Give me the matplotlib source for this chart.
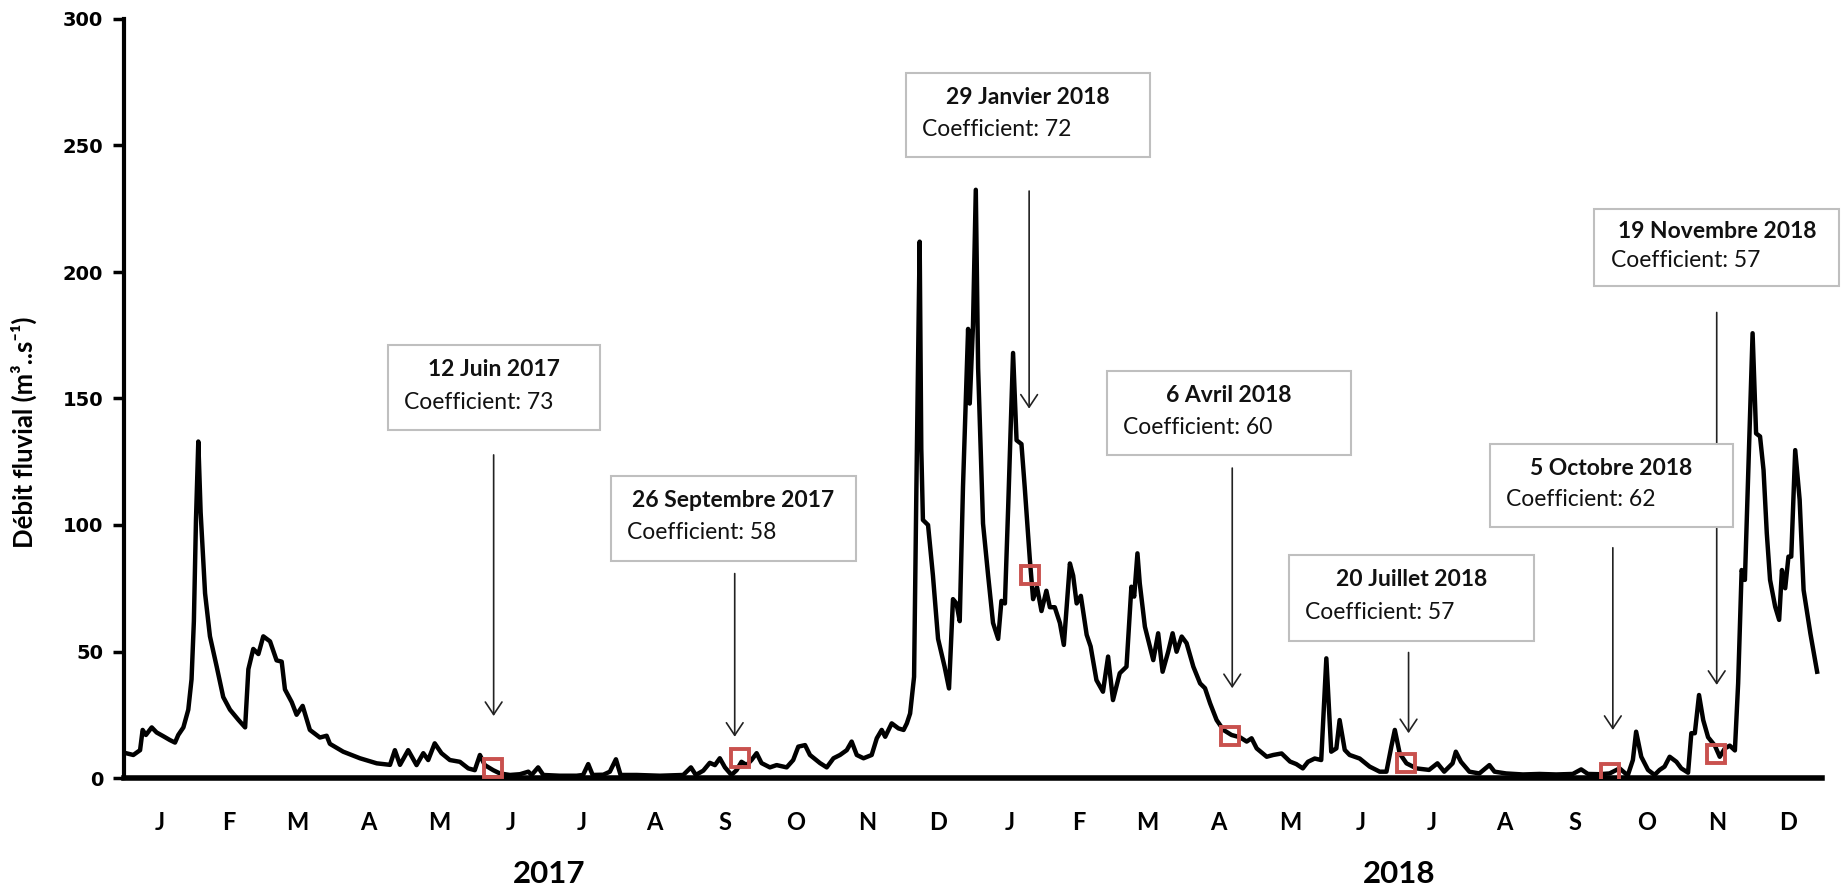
import matplotlib
matplotlib.use("Agg")
import matplotlib.pyplot as plt
from matplotlib.patches import Rectangle

# daily river discharge (day 0 = 1 Jan 2017)
days = [0, 4, 6.9, 8, 9.4, 11.9, 14, 16.9, 19.7, 21.9, 23.3, 25.5, 27.6, 29, 30, 30.9, 31.9, 32.9,
        34.8, 36.9, 39.8, 42.6, 45.5, 49.1, 52, 53.4, 55.5, 57.7, 59.8, 62.7, 65.5, 67.7, 69.1, 72,
        74.1, 76.7, 79.8, 84.1, 87, 88.4, 94.1, 101.3, 108.5, 114.2, 116.3, 118.5, 122, 125.6, 128.5,
        130.6, 133.4, 136.3, 139.9, 144.2, 147.8, 150.6, 152.8, 154.9, 158.5, 161.4, 165.7, 170,
        173.6, 175, 177.8, 180, 187.1, 194.3, 197.1, 199.3, 201.2, 205.8, 208.6, 211.2, 213.2, 220.1,
        230.1, 240.1, 243.4, 245.5, 248.7, 251.5, 253.7, 255.8, 258, 260.8, 263, 265.1, 267.3, 269.4,
        271.6, 273.7, 277.3, 280.2, 284.5, 287.3, 289.5, 292.4, 294.5, 298.8, 301.7, 304.6, 307.4,
        310.3, 312.4, 314.6, 317.5, 321, 323.2, 325.3, 326.8, 329.6, 332.5, 334.7, 336.1, 337.5,
        339.2, 340.2, 341.6, 342.3, 343, 345.2, 347.3, 349.5, 352.3, 354.2, 355.9, 357.4, 358.8,
        360.2, 362.4, 363.1, 364.5, 365.7, 366.7, 368.8, 371, 373.1, 375.3, 376.7, 378.2, 379.6,
        381.7, 383.2, 385.3, 386.7, 388.9, 390.3, 392, 393.9, 396, 397.5, 399.6, 401.8, 403.5, 406.1,
        407.5, 409, 410.8, 413.3, 415, 417.5, 420.3, 422.5, 424.6, 427.5, 430.4, 432.5, 433.7, 435.1,
        436.1, 438.3, 441.9, 444, 445.9, 448.3, 450.2, 451.9, 454.1, 456.2, 459.1, 462, 464.1, 466.3,
        469.1, 472, 475.5, 479.1, 482, 484.1, 486.3, 490.6, 493.4, 497, 500.6, 503.3, 506.1, 508.3,
        511.2, 514, 516.2, 518.3, 520.5, 521.9, 524.1, 526.2, 530.5, 534.8, 539.1, 542, 544.1, 545.6,
        547.7, 550.6, 554.9, 560.3, 563.9, 566.8, 570.4, 571.8, 574, 577.6, 581.9, 586.2, 588.4,
        593.4, 600.6, 607.7, 614.9, 622, 625.6, 628.5, 633.5, 637.8, 642.1, 645.6, 647.8, 649.2,
        651.4, 654.3, 657.1, 659.3, 661.4, 663.6, 666.5, 668.6, 671.5, 672.9, 674.4, 676.2, 678,
        680.1, 683, 685.1, 687.3, 689.4, 691.6, 693, 694.5, 695.9, 697.4, 699.2, 700.7, 702.4, 703.9,
        705.3, 706.7, 708.9, 710.6, 711.8, 713.2, 714.6, 715.8, 717.5, 719.4, 721.1, 724, 726.9]
debit = [10, 9.1, 11, 19, 17, 20, 18, 16.5, 15, 14, 17, 20, 27, 39, 62, 102, 133, 105,
         73, 56, 44, 32, 27, 23, 20, 43, 51, 49, 56, 54, 46.5, 46, 35, 30,
         25, 28.5, 19, 16, 16.7, 13.5, 10.4, 7.8, 5.8, 5.2, 11, 5.2, 11, 5.1, 9.8,
         7.1, 13.7, 9.8, 7.1, 6.4, 3.8, 3.1, 9.1, 5.1, 3.1, 1.8, 1.2, 1.5,
         2.5, 1.2, 4.2, 1.2, 0.9, 0.9, 1.2, 5.5, 1.2, 1.3, 2.5, 7.4, 1.2, 1.2,
         0.9, 1.2, 4.2, 1.2, 2.9, 6.0, 5.1, 7.8, 4.2, 1.2, 3.1, 6.4, 5.1, 7.1,
         9.8, 5.9, 4.2, 5.1, 4.2, 7.1, 12.4, 13.0, 9.1, 5.9, 4.2, 7.8, 9.1,
         11.0, 14.4, 9.1, 7.8, 9.1, 15.7, 19.0, 16.3, 21.6, 19.6, 19.0, 21.6, 25.5,
         40, 115, 212, 130, 102, 100, 80, 55, 44, 35.4, 70.7, 69, 62,
         115, 177.5, 148, 179, 232.5, 162, 100.6, 80, 61.3, 55, 70, 69, 107,
         168, 133.5, 132, 115, 86.4, 70.7, 75.4, 66, 74, 67.5, 67.5, 61.3, 52.6, 84.8,
         80, 69, 72, 56.6, 52, 38.7, 34.1, 48, 30.8, 41.4, 44, 75.6, 71.7, 88.8,
         76.9, 59.8, 46.6, 57.2, 42, 49.9, 57.2, 49.9, 55.9, 53.3, 44, 37.4, 35.5, 29.5,
         22.9, 19, 17, 16.1, 14.4, 15.7, 11.7, 8.4, 9.1, 9.7, 6.5, 5.5, 3.8, 6.4,
         7.7, 7.1, 47.3, 10.4, 11.7, 22.9, 11.1, 9.1, 7.7, 4.5, 2.5, 2.5, 12.4, 19,
         9.7, 5.8, 3.8, 3.2, 5.8, 2.5, 5.8, 10.4, 6.4, 2.5, 1.8, 5.1, 2.5,
         1.8, 1.4, 1.6, 1.4, 1.6, 3.4, 1.6, 1.5, 1.8, 3.8, 1, 7.1, 18.3,
         8.4, 3.2, 1.2, 3.2, 4.5, 8.4, 6.4, 3.8, 2.1, 17.7, 17.7, 32.8, 22.9,
         16.1, 12.8, 8.4, 11.7, 12.8, 10.9, 37.4, 82.2, 78.3, 123, 175.8, 136.2, 135, 121.7,
         96.7, 78.3, 67.7, 62.5, 82.2, 75, 87.5, 87.5, 129.6, 110, 74.3, 57.2, 42]

month_labels = ["J", "F", "M", "A", "M", "J", "J", "A", "S", "O", "N", "D"] * 2
month_len = [31, 28, 31, 30, 31, 30, 31, 31, 30, 31, 30, 31] * 2
years = ["2017", "2018"]

# tide events
event_dates = ["12 Juin 2017", "26 Septembre 2017", "29 Janvier 2018", "6 Avril 2018",
               "20 Juillet 2018", "5 Octobre 2018", "19 Novembre 2018"]
coefs = [73, 58, 72, 60, 57, 62, 57]
mark_day = [158.3, 264.4, 388.9, 474.8, 550.3, 637.8, 683.7]
mark_val = [4.1, 7.8, 80.3, 16.6, 6.0, 1.8, 9.5]
arrow_day = [158.7, 262.2, 388.6, 475.8, 551.5, 639.2, 683.8]
arrow_top = [127.7, 80.8, 232, 122.5, 49.6, 91, 184]
arrow_tip = [24.5, 16.3, 146, 35.5, 17.7, 19, 36.8]

# label boxes (left, right, bottom, top) in data units
boxes = [(113.4, 204.3, 137.5, 171.1), (209, 314.2, 85.8, 119.4), (335.6, 440.3, 245.5, 278.7),
         (421.9, 527, 127.7, 160.9), (500, 605.2, 54.2, 88.1), (586.3, 691, 99.2, 132),
         (631.3, 736.5, 194.5, 224.9)]

W, H = 1843, 891
fig = plt.figure(figsize=(W / 100, H / 100), dpi=100)
ax = fig.add_axes([124 / W, 113 / H, 1698 / W, 759 / H])

ax.plot(days, debit, color="black", lw=3.2, solid_joinstyle="round", zorder=3)
ax.plot(mark_day, mark_val, ls="none", marker="s", ms=12.5, mfc="none", mec="#C9514E", mew=2.8,
        zorder=4)

for d, t, b in zip(arrow_day, arrow_top, arrow_tip):
    ax.annotate("", xy=(d, b), xytext=(d, t),
                arrowprops=dict(arrowstyle="->,head_length=0.9,head_width=0.6", color="#222222",
                                lw=1.2, shrinkA=0, shrinkB=0, mutation_scale=10),
                annotation_clip=False, zorder=2)

for (l, r, b, t), txt, c in zip(boxes, event_dates, coefs):
    ax.add_patch(Rectangle((l, b), r - l, t - b, fc="white", ec="#BFBFBF", lw=1.5,
                           clip_on=False, zorder=5))
    h = t - b
    ax.text((l + r) / 2, t - 0.29 * h, txt, ha="center", va="center", fontsize=16.5,
            fontweight="bold", family="Lato", color="#111111", zorder=6, clip_on=False)
    ax.text(l + 7, t - 0.67 * h, f"Coefficient: {c}", ha="left", va="center", fontsize=16.5,
            family="Lato", color="#111111", zorder=6, clip_on=False)

ax.set_xlim(0, 729)
ax.set_ylim(0, 300)
for s in ["top", "right"]:
    ax.spines[s].set_visible(False)
ax.spines["left"].set_linewidth(3)
ax.spines["bottom"].set_linewidth(4)

ax.set_yticks(range(0, 301, 50))
ax.tick_params(axis="y", direction="out", length=8, width=2.5, pad=7, labelsize=14)
for lab in ax.get_yticklabels():
    lab.set_fontweight("bold")
    lab.set_family("DejaVu Sans")

starts = [sum(month_len[:i]) for i in range(len(month_len))]
centers = [s + n / 2 for s, n in zip(starts, month_len)]
ax.set_xticks(centers)
ax.set_xticklabels(month_labels, fontsize=17, fontweight="bold", family="Lato")
ax.tick_params(axis="x", length=0, pad=24)

for i, y in enumerate(years):
    ax.text(182.5 + 365 * i, -0.127, y, transform=ax.get_xaxis_transform(), ha="center",
            va="center", fontsize=22.5, fontweight="bold", family="Lato")

fig.text(24 / W, 1 - 432 / H, "Débit fluvial (m³..s⁻¹)", rotation=90, ha="center", va="center",
         fontsize=18.5, fontweight="bold", family=["Lato", "DejaVu Sans"])

fig.savefig("out.png", dpi=100)
